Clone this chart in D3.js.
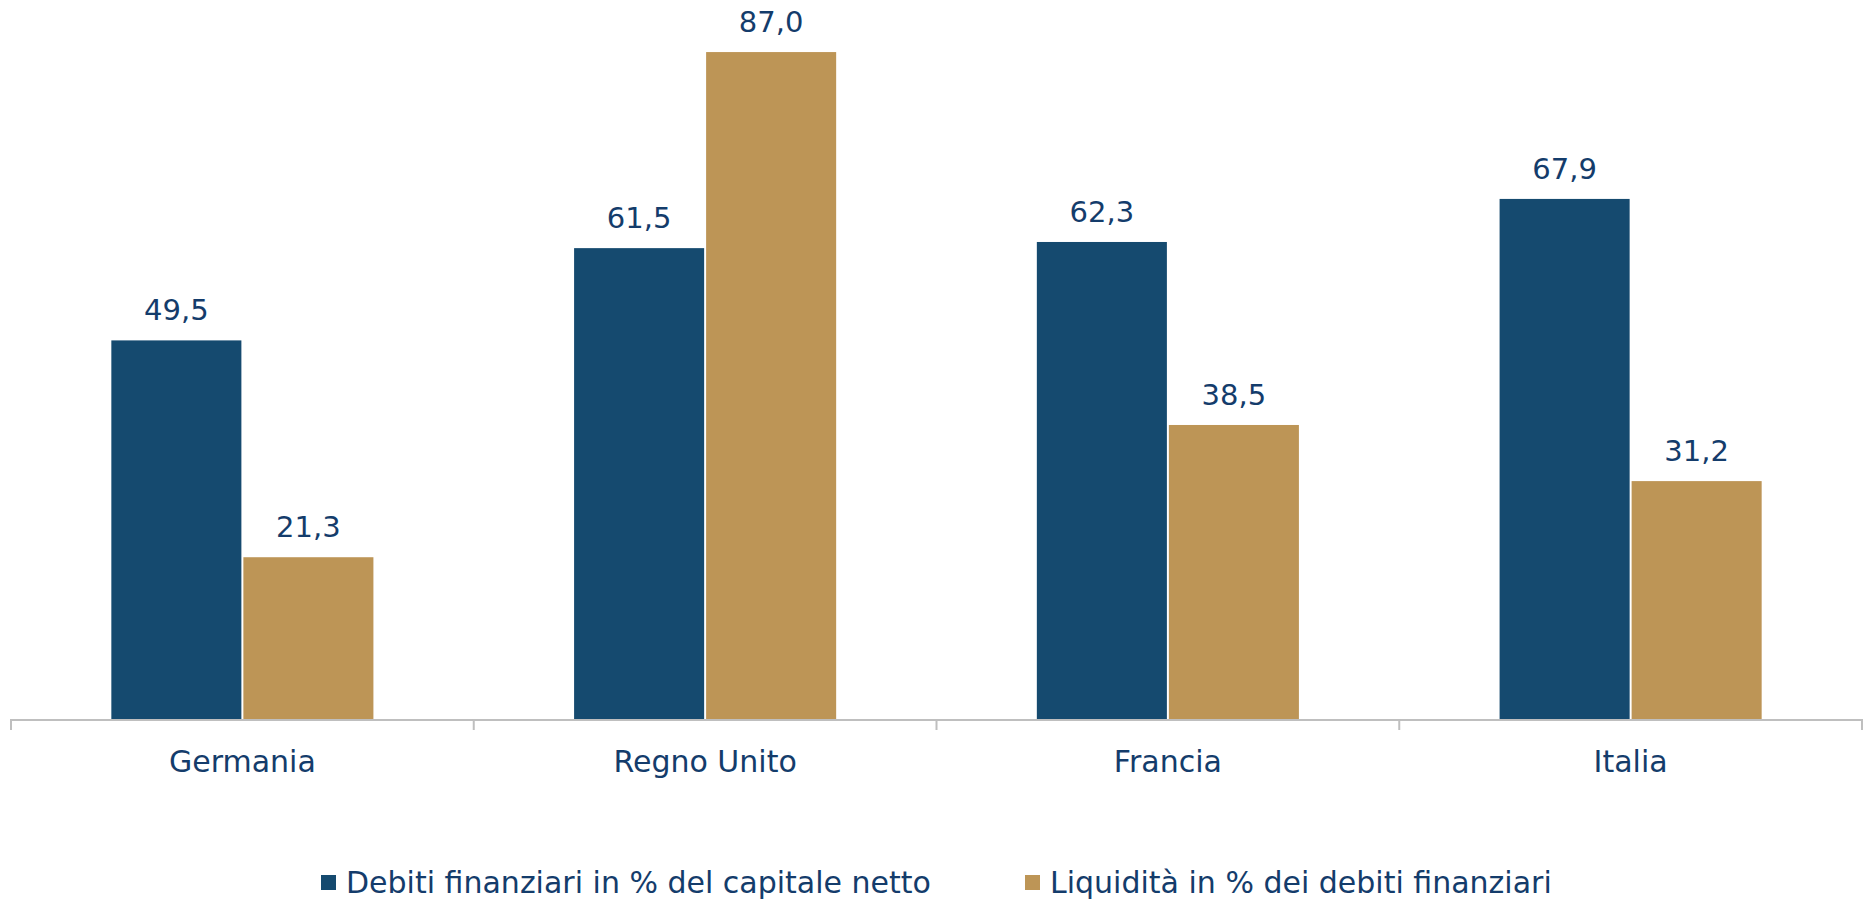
<!DOCTYPE html>
<html>
<head>
<meta charset="utf-8">
<script src="https://cdn.jsdelivr.net/npm/d3@7"></script>
<style>
  html, body { margin: 0; padding: 0; background: #fff; }
  svg { display: block; }
  text { font-family: "DejaVu Sans", sans-serif; fill: #143C6B; }
</style>
</head>
<body>
<svg id="chart" width="1867" height="901"></svg>
<script>
// Chart data
const categories = ["Germania", "Regno Unito", "Francia", "Italia"];
const seriesNames = ["Debiti finanziari in % del capitale netto", "Liquidità in % dei debiti finanziari"];
const debitiValues = [49.5, 61.5, 62.3, 67.9];
const liquiditaValues = [21.3, 87.0, 38.5, 31.2];
const seriesColors = ["#154A6F", "#BD9556"];

const rows = categories.map((c, i) => ({
  category: c,
  values: [
    { series: 0, value: debitiValues[i] },
    { series: 1, value: liquiditaValues[i] }
  ]
}));

const svg = d3.select("#chart");
const left = 11, right = 1862, baseline = 721, topY = 29;

const x0 = d3.scaleBand().domain(categories).range([left, right]).paddingInner(0).paddingOuter(0);
const x1 = d3.scaleBand().domain([0, 1]).range([0, x0.bandwidth()]).paddingInner(0.015).paddingOuter(0.76);
const y = d3.scaleLinear().domain([0, 90]).range([baseline, topY]);

const fmt = v => d3.format(".1f")(v).replace(".", ",");

// Bars
const groups = svg.append("g").selectAll("g")
  .data(rows)
  .join("g")
  .attr("transform", d => `translate(${x0(d.category)},0)`);

groups.selectAll("rect")
  .data(d => d.values)
  .join("rect")
  .attr("x", d => x1(d.series))
  .attr("y", d => y(d.value))
  .attr("width", x1.bandwidth())
  .attr("height", d => baseline - y(d.value))
  .attr("fill", d => seriesColors[d.series]);

// Value labels
groups.selectAll("text")
  .data(d => d.values)
  .join("text")
  .attr("x", d => x1(d.series) + x1.bandwidth() / 2)
  .attr("y", d => y(d.value) - 20)
  .attr("text-anchor", "middle")
  .attr("font-size", 29)
  .text(d => fmt(d.value));

// Category axis: baseline with boundary ticks
const axisG = svg.append("g");
axisG.append("line")
  .attr("x1", left).attr("x2", right)
  .attr("y1", 720).attr("y2", 720)
  .attr("stroke", "#BFBFBF").attr("stroke-width", 2);

const tickPositions = categories.map(c => x0(c)).concat([right]);
axisG.selectAll("line.tick")
  .data(tickPositions)
  .join("line")
  .attr("class", "tick")
  .attr("x1", d => d).attr("x2", d => d)
  .attr("y1", 719).attr("y2", 730)
  .attr("stroke", "#BFBFBF").attr("stroke-width", 2);

axisG.selectAll("text")
  .data(categories)
  .join("text")
  .attr("x", d => x0(d) + x0.bandwidth() / 2)
  .attr("y", 772)
  .attr("text-anchor", "middle")
  .attr("font-size", 30)
  .text(d => d);

// Legend
const legendItems = [
  { name: seriesNames[0], color: seriesColors[0], x: 321 },
  { name: seriesNames[1], color: seriesColors[1], x: 1025 }
];
const legend = svg.append("g").selectAll("g")
  .data(legendItems)
  .join("g")
  .attr("transform", d => `translate(${d.x},0)`);
legend.append("rect")
  .attr("x", 0).attr("y", 875)
  .attr("width", 15).attr("height", 15)
  .attr("fill", d => d.color);
legend.append("text")
  .attr("x", 25).attr("y", 893)
  .attr("font-size", 30)
  .text(d => d.name);
</script>
</body>
</html>
